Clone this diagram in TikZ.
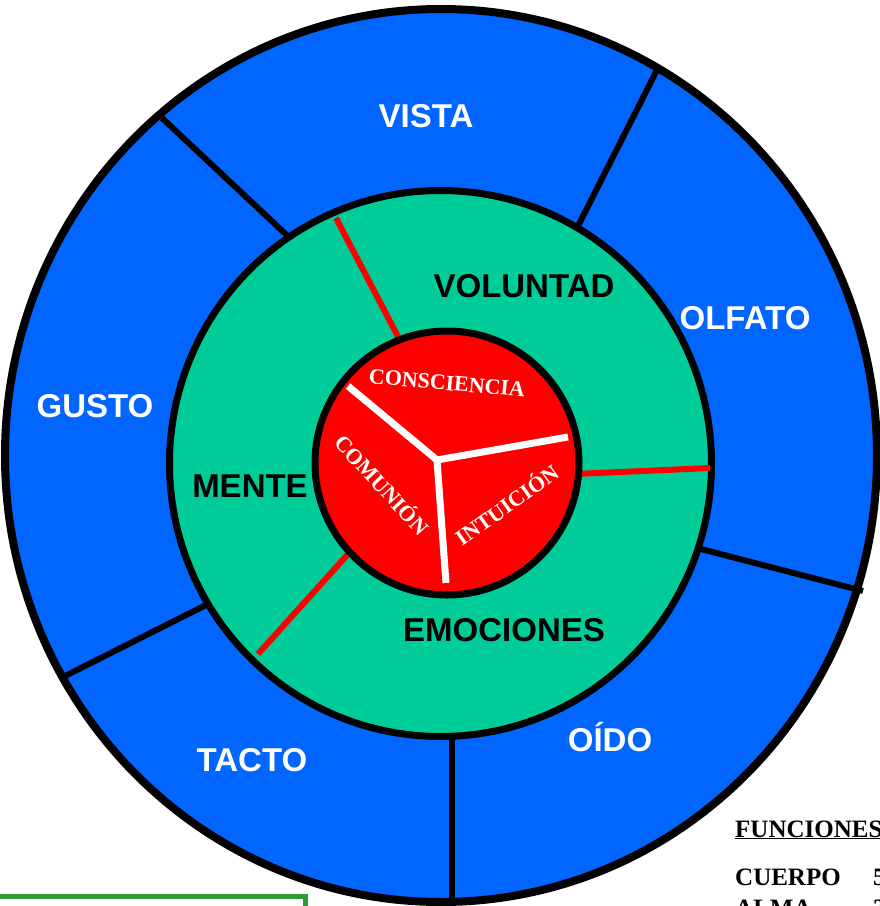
\documentclass[tikz,border=0pt]{standalone}
\usepackage{fontspec}
\setmainfont{Liberation Serif}
\newfontfamily\sensefont{Liberation Sans}
\definecolor{senseblue}{RGB}{0,102,255}
\definecolor{soulgreen}{RGB}{0,204,153}
\definecolor{boxgreen}{RGB}{51,153,51}

\begin{document}
\begin{tikzpicture}[x=1pt,y=-1pt,
  sense/.style={anchor=base,text=white,font=\sensefont\bfseries\fontsize{33}{36}\selectfont},
  soul/.style={anchor=base,text=black,font=\sensefont\bfseries\fontsize{33}{36}\selectfont},
  spirit/.style={text=white,inner sep=0pt,font=\bfseries\fontsize{22}{24}\selectfont},
  legend/.style={anchor=base west,inner sep=0pt,font=\bfseries\fontsize{25}{28}\selectfont},
  divider/.style={black,line width=6pt},
  redline/.style={red,line width=6pt},
  spoke/.style={white,line width=7pt},
  ]
\useasboundingbox (0,0) rectangle (880,906);
% body: the five senses
\draw[fill=senseblue,line width=8pt] (441,455.5) ellipse [x radius=436, y radius=446.5];
\draw[divider] (162,118) -- (292,240);
\draw[divider] (657,70) -- (577,228);
\draw[divider] (697,548) -- (863,591);
\draw[divider] (212,602) -- (65,676);
\draw[divider] (452,730) -- (452,902);
% soul
\draw[fill=soulgreen,line width=7pt] (440.5,463.5) ellipse [x radius=271, y radius=273];
\draw[redline] (336,218) -- (405,350);
\draw[redline] (575,474) -- (710,468);
\draw[redline] (258,654) -- (358,543);
% spirit
\draw[fill=red,line width=7pt] (447,463) circle [radius=132];
\coordinate (hub) at (437,460);
\draw[spoke] (348,386) -- (hub) -- (568,437);
\draw[spoke] (hub) -- (446,583);
\foreach \nm/\px/\py/\txt in {vista/426/127/VISTA, olfato/745/329/OLFATO,
    gusto/95/417/GUSTO, tacto/252/771/TACTO, oido/610/751/OÍDO}
  \node[sense] (\nm) at (\px,\py) {\txt};
\foreach \nm/\px/\py/\txt in {voluntad/524/297.5/VOLUNTAD, mente/250/497/MENTE,
    emociones/504/641/EMOCIONES}
  \node[soul] (\nm) at (\px,\py) {\txt};
\node[spirit,rotate=-5] (consciencia) at (447,383) {CONSCIENCIA};
\node[spirit,rotate=-47.5] (comunion) at (383,484) {COMUNIÓN};
\node[spirit,rotate=35.5] (intuicion) at (506,504) {INTUICIÓN};
% legend, cut by the page edge
\draw[boxgreen,line width=5pt] (-10,960) |- (305,896) -- (305,960);
\node[legend] (funciones) at (735,837) {\underline{FUNCIONES}};
\node[legend] (cuerpo) at (735,885) {CUERPO};
\node[legend] (cuerpon) at (873,885) {5};
\node[legend] (alma) at (735,916) {ALMA};
\node[legend] (alman) at (873,916) {3};
\end{tikzpicture}
\end{document}
